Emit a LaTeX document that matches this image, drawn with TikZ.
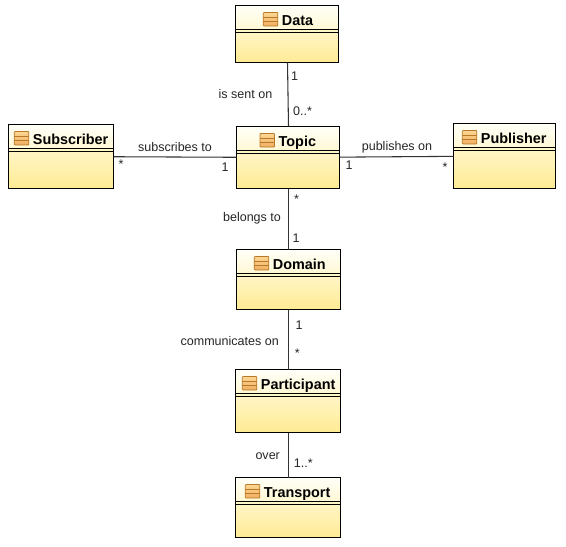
\documentclass[tikz,border=0pt]{standalone}
\usepackage{fontspec}
\setmainfont{Liberation Sans}
\usetikzlibrary{calc}
\definecolor{hdtop}{HTML}{FFFFF8}
\definecolor{hdbot}{HTML}{FFF8D4}
\definecolor{bdtop}{HTML}{FFF6C8}
\definecolor{bdbot}{HTML}{FFEB94}
\definecolor{ictop}{HTML}{FBD694}
\definecolor{icbot}{HTML}{F0AE60}
\definecolor{icline}{HTML}{B87828}
\tikzset{
  x=0.75pt,y=-0.75pt,
  classbox/.style={draw=black,line width=0.8pt,anchor=north west,inner sep=0pt,outer sep=0pt},
  classname/.style={font=\bfseries\fontsize{10.8}{12}\selectfont,anchor=base west,inner sep=0pt,text=black},
  lab/.style={font=\fontsize{9.4}{11}\selectfont,inner sep=0pt,text=black!85},
  link/.style={draw=black!80,line width=0.8pt},
}
% #1 name, #2 x1, #3 y1, #4 x2, #5 y2, #6 divider y, #7 label, #8 icon x
\newcommand{\umlclass}[8]{
  \shade[top color=bdtop,bottom color=bdbot] (#2,#6) rectangle (#4,#5);
  \shade[top color=hdtop,bottom color=hdbot] (#2,#3) rectangle (#4,#6);
  \node[classbox,minimum width={(#4-#2)*0.75pt},minimum height={(#5-#3)*0.75pt}] (#1) at (#2,#3) {};
  \draw[black,line width=0.7pt] (#2,#6) -- (#4,#6);
  \draw[black,line width=0.7pt] (#2,#6+2.8) -- (#4,#6+2.8);
  \draw[icline,line width=0.6pt,top color=ictop,bottom color=icbot,rounded corners=0.6pt] (#8,#6-17) rectangle (#8+14.5,#6-3.5);
  \draw[icline,line width=0.5pt] (#8,#6-12.6) -- (#8+14.5,#6-12.6) (#8,#6-8) -- (#8+14.5,#6-8);
  \node[classname] (#1-label) at (#8+18.4,#6-4.4) {#7};
}
\begin{document}
\begin{tikzpicture}
\useasboundingbox (0,0) rectangle (566,546);
\fill[white] (0,0) rectangle (566,546);
\umlclass{data}{235.5}{5.5}{338.5}{62.5}{29.5}{Data}{263.3}
\umlclass{topic}{236.5}{126.5}{339.5}{188.5}{150.5}{Topic}{260}
\umlclass{subscriber}{8.5}{124.5}{113.5}{188.5}{148.5}{Subscriber}{14.3}
\umlclass{publisher}{453.5}{123.5}{555.5}{188.5}{147.5}{Publisher}{462.3}
\umlclass{domain}{236.5}{249.5}{340.5}{309.5}{273.5}{Domain}{254.3}
\umlclass{participant}{235.5}{369.5}{340.5}{432.5}{393.5}{Participant}{242.3}
\umlclass{transport}{235.5}{477.5}{340.5}{537.5}{501.5}{Transport}{245.3}
\draw[link] ($(data.south)+(0.5,0)$) -- ($(topic.north)+(0.5,0)$);
\draw[link] (subscriber) -- (topic);
\draw[link] (publisher) -- (topic);
\draw[link] ($(topic.south)+(0.5,0)$) -- (domain.north);
\draw[link] (domain.south) -- ($(participant.north)+(0.5,0)$);
\draw[link] ($(participant.south)+(0.5,0)$) -- ($(transport.north)+(0.5,0)$);
\node[lab] (l1) at (245.5,94) {is sent on};
\node[lab] (l2) at (294.5,76) {1};
\node[lab] (l3) at (302.5,111) {0..*};
\node[lab] (l4) at (175,147) {subscribes to};
\node[lab] (l5) at (121,164) {*};
\node[lab] (l6) at (225,167) {1};
\node[lab] (l7) at (397,147) {publishes on};
\node[lab] (l8) at (349,165.5) {1};
\node[lab] (l9) at (445,167) {*};
\node[lab] (l10) at (252,218) {belongs to};
\node[lab] (l11) at (296.5,199) {*};
\node[lab] (l12) at (296,238) {1};
\node[lab] (l13) at (229.7,341) {communicates on};
\node[lab] (l14) at (299,325) {1};
\node[lab] (l15) at (297.3,353) {*};
\node[lab] (l16) at (267.7,456) {over};
\node[lab] (l17) at (303.3,463) {1..*};
\end{tikzpicture}
\end{document}
